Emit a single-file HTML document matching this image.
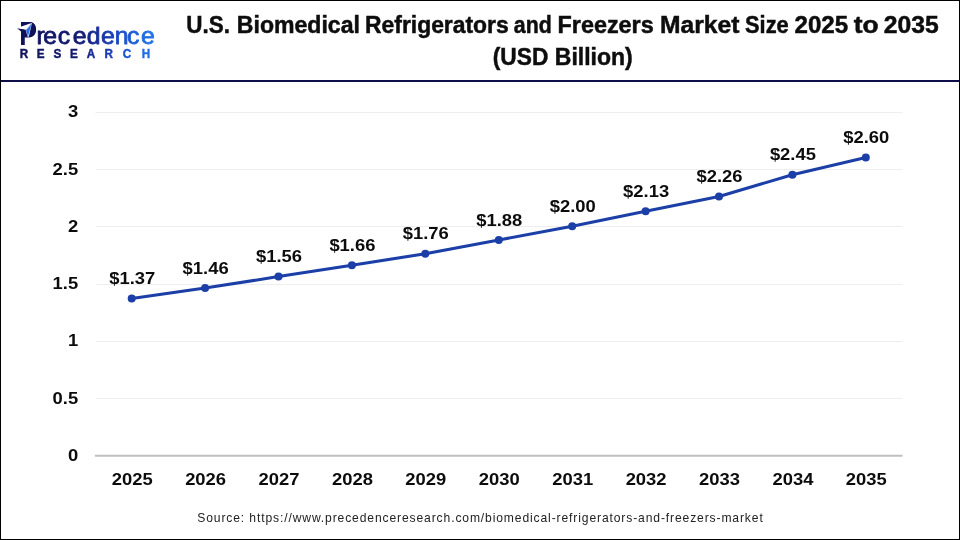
<!DOCTYPE html>
<html lang="en"><head><meta charset="utf-8"><title>U.S. Biomedical Refrigerators and Freezers Market Size 2025 to 2035</title>
<style>html,body{margin:0;padding:0;background:#fff;}body{width:960px;height:540px;overflow:hidden;}svg{display:block;}text{font-family:"Liberation Sans", Arial, Helvetica, sans-serif;}</style></head><body>
<svg width="960" height="540" viewBox="0 0 960 540">
<defs><linearGradient id="lg" gradientUnits="userSpaceOnUse" x1="17" y1="0" x2="154" y2="0"><stop offset="0" stop-color="#10125a"/><stop offset="0.45" stop-color="#131a72"/><stop offset="0.62" stop-color="#1832a4"/><stop offset="0.8" stop-color="#1b55d2"/><stop offset="1" stop-color="#2376ee"/></linearGradient><linearGradient id="lg2" gradientUnits="userSpaceOnUse" x1="18.9" y1="0" x2="171.1" y2="0"><stop offset="0" stop-color="#10125a"/><stop offset="0.45" stop-color="#131a72"/><stop offset="0.62" stop-color="#1832a4"/><stop offset="0.8" stop-color="#1b55d2"/><stop offset="1" stop-color="#2376ee"/></linearGradient><linearGradient id="lg3" gradientUnits="userSpaceOnUse" x1="16.35" y1="0" x2="148.1" y2="0"><stop offset="0" stop-color="#10125a"/><stop offset="0.45" stop-color="#131a72"/><stop offset="0.62" stop-color="#1832a4"/><stop offset="0.8" stop-color="#1b55d2"/><stop offset="1" stop-color="#2376ee"/></linearGradient></defs>
<rect x="0" y="0" width="960" height="540" fill="#ffffff"/>
<line x1="95.5" y1="398.5" x2="902.5" y2="398.5" stroke="#eeeeee" stroke-width="1"/>
<line x1="95.5" y1="341.5" x2="902.5" y2="341.5" stroke="#eeeeee" stroke-width="1"/>
<line x1="95.5" y1="284.5" x2="902.5" y2="284.5" stroke="#eeeeee" stroke-width="1"/>
<line x1="95.5" y1="226.5" x2="902.5" y2="226.5" stroke="#eeeeee" stroke-width="1"/>
<line x1="95.5" y1="169.5" x2="902.5" y2="169.5" stroke="#eeeeee" stroke-width="1"/>
<line x1="95.5" y1="112.5" x2="902.5" y2="112.5" stroke="#eeeeee" stroke-width="1"/>
<line x1="95.0" y1="455.8" x2="902.5" y2="455.8" stroke="#bfbfbf" stroke-width="2"/>
<text transform="translate(78.2 460.8) scale(1.150 1)" x="0" y="0" font-size="16" font-weight="700" text-anchor="end" fill="#0c0c0c">0</text>
<text transform="translate(78.2 403.5) scale(1.150 1)" x="0" y="0" font-size="16" font-weight="700" text-anchor="end" fill="#0c0c0c">0.5</text>
<text transform="translate(78.2 346.3) scale(1.150 1)" x="0" y="0" font-size="16" font-weight="700" text-anchor="end" fill="#0c0c0c">1</text>
<text transform="translate(78.2 289.0) scale(1.150 1)" x="0" y="0" font-size="16" font-weight="700" text-anchor="end" fill="#0c0c0c">1.5</text>
<text transform="translate(78.2 231.7) scale(1.150 1)" x="0" y="0" font-size="16" font-weight="700" text-anchor="end" fill="#0c0c0c">2</text>
<text transform="translate(78.2 174.5) scale(1.150 1)" x="0" y="0" font-size="16" font-weight="700" text-anchor="end" fill="#0c0c0c">2.5</text>
<text transform="translate(78.2 117.2) scale(1.150 1)" x="0" y="0" font-size="16" font-weight="700" text-anchor="end" fill="#0c0c0c">3</text>
<text transform="translate(132.2 484.7) scale(1.150 1)" x="0" y="0" font-size="16" font-weight="700" text-anchor="middle" fill="#0c0c0c">2025</text>
<text transform="translate(205.6 484.7) scale(1.150 1)" x="0" y="0" font-size="16" font-weight="700" text-anchor="middle" fill="#0c0c0c">2026</text>
<text transform="translate(279.0 484.7) scale(1.150 1)" x="0" y="0" font-size="16" font-weight="700" text-anchor="middle" fill="#0c0c0c">2027</text>
<text transform="translate(352.4 484.7) scale(1.150 1)" x="0" y="0" font-size="16" font-weight="700" text-anchor="middle" fill="#0c0c0c">2028</text>
<text transform="translate(425.8 484.7) scale(1.150 1)" x="0" y="0" font-size="16" font-weight="700" text-anchor="middle" fill="#0c0c0c">2029</text>
<text transform="translate(499.2 484.7) scale(1.150 1)" x="0" y="0" font-size="16" font-weight="700" text-anchor="middle" fill="#0c0c0c">2030</text>
<text transform="translate(572.7 484.7) scale(1.150 1)" x="0" y="0" font-size="16" font-weight="700" text-anchor="middle" fill="#0c0c0c">2031</text>
<text transform="translate(646.1 484.7) scale(1.150 1)" x="0" y="0" font-size="16" font-weight="700" text-anchor="middle" fill="#0c0c0c">2032</text>
<text transform="translate(719.5 484.7) scale(1.150 1)" x="0" y="0" font-size="16" font-weight="700" text-anchor="middle" fill="#0c0c0c">2033</text>
<text transform="translate(792.9 484.7) scale(1.150 1)" x="0" y="0" font-size="16" font-weight="700" text-anchor="middle" fill="#0c0c0c">2034</text>
<text transform="translate(866.3 484.7) scale(1.150 1)" x="0" y="0" font-size="16" font-weight="700" text-anchor="middle" fill="#0c0c0c">2035</text>
<polyline points="131.7,298.4 205.1,288.1 278.5,276.6 351.9,265.2 425.3,253.7 498.8,240.0 572.2,226.2 645.6,211.3 719.0,196.5 792.4,174.7 865.8,157.5" fill="none" stroke="#1b3fa6" stroke-width="3" stroke-linejoin="round" stroke-linecap="round"/>
<circle cx="131.7" cy="298.4" r="4" fill="#1b3fa6"/>
<circle cx="205.1" cy="288.1" r="4" fill="#1b3fa6"/>
<circle cx="278.5" cy="276.6" r="4" fill="#1b3fa6"/>
<circle cx="351.9" cy="265.2" r="4" fill="#1b3fa6"/>
<circle cx="425.3" cy="253.7" r="4" fill="#1b3fa6"/>
<circle cx="498.8" cy="240.0" r="4" fill="#1b3fa6"/>
<circle cx="572.2" cy="226.2" r="4" fill="#1b3fa6"/>
<circle cx="645.6" cy="211.3" r="4" fill="#1b3fa6"/>
<circle cx="719.0" cy="196.5" r="4" fill="#1b3fa6"/>
<circle cx="792.4" cy="174.7" r="4" fill="#1b3fa6"/>
<circle cx="865.8" cy="157.5" r="4" fill="#1b3fa6"/>
<text transform="translate(132.2 283.9) scale(1.150 1)" x="0" y="0" font-size="16" font-weight="700" text-anchor="middle" fill="#0c0c0c">$1.37</text>
<text transform="translate(205.6 273.6) scale(1.150 1)" x="0" y="0" font-size="16" font-weight="700" text-anchor="middle" fill="#0c0c0c">$1.46</text>
<text transform="translate(279.0 262.1) scale(1.150 1)" x="0" y="0" font-size="16" font-weight="700" text-anchor="middle" fill="#0c0c0c">$1.56</text>
<text transform="translate(352.4 250.7) scale(1.150 1)" x="0" y="0" font-size="16" font-weight="700" text-anchor="middle" fill="#0c0c0c">$1.66</text>
<text transform="translate(425.8 239.2) scale(1.150 1)" x="0" y="0" font-size="16" font-weight="700" text-anchor="middle" fill="#0c0c0c">$1.76</text>
<text transform="translate(499.2 225.5) scale(1.150 1)" x="0" y="0" font-size="16" font-weight="700" text-anchor="middle" fill="#0c0c0c">$1.88</text>
<text transform="translate(572.7 211.7) scale(1.150 1)" x="0" y="0" font-size="16" font-weight="700" text-anchor="middle" fill="#0c0c0c">$2.00</text>
<text transform="translate(646.1 196.8) scale(1.150 1)" x="0" y="0" font-size="16" font-weight="700" text-anchor="middle" fill="#0c0c0c">$2.13</text>
<text transform="translate(719.5 182.0) scale(1.150 1)" x="0" y="0" font-size="16" font-weight="700" text-anchor="middle" fill="#0c0c0c">$2.26</text>
<text transform="translate(792.9 160.2) scale(1.150 1)" x="0" y="0" font-size="16" font-weight="700" text-anchor="middle" fill="#0c0c0c">$2.45</text>
<text transform="translate(866.3 143.0) scale(1.150 1)" x="0" y="0" font-size="16" font-weight="700" text-anchor="middle" fill="#0c0c0c">$2.60</text>
<text y="33.0" font-size="24.7" font-weight="700" fill="#0d0d0d" stroke="#0d0d0d" stroke-width="0.5"><tspan x="186.30" textLength="43.65" lengthAdjust="spacingAndGlyphs">U.S.</tspan> <tspan x="236.80" textLength="123.15" lengthAdjust="spacingAndGlyphs">Biomedical</tspan> <tspan x="365.05" textLength="143.65" lengthAdjust="spacingAndGlyphs">Refrigerators</tspan> <tspan x="513.80" textLength="37.90" lengthAdjust="spacingAndGlyphs">and</tspan> <tspan x="557.55" textLength="96.15" lengthAdjust="spacingAndGlyphs">Freezers</tspan> <tspan x="660.05" textLength="79.40" lengthAdjust="spacingAndGlyphs">Market</tspan> <tspan x="745.05" textLength="43.65" lengthAdjust="spacingAndGlyphs">Size</tspan> <tspan x="794.55" textLength="53.65" lengthAdjust="spacingAndGlyphs">2025</tspan> <tspan x="853.80" textLength="24.90" lengthAdjust="spacingAndGlyphs">to</tspan> <tspan x="883.80" textLength="54.90" lengthAdjust="spacingAndGlyphs">2035</tspan></text>
<text y="65.0" font-size="24.7" font-weight="700" fill="#0d0d0d" stroke="#0d0d0d" stroke-width="0.5"><tspan x="492.80" textLength="55.50" lengthAdjust="spacingAndGlyphs">(USD</tspan> <tspan x="554.80" textLength="77.90" lengthAdjust="spacingAndGlyphs">Billion)</tspan></text>
<text x="480" y="522" font-size="12.1" text-anchor="middle" textLength="565.5" lengthAdjust="spacing" fill="#222">Source: https://www.precedenceresearch.com/biomedical-refrigerators-and-freezers-market</text>
<rect x="0" y="80" width="960" height="2" fill="#0d0d47"/>
<g id="logo">
<text transform="translate(19.3 44.5) scale(0.85 1.062)" x="0" y="0" font-size="31" font-weight="700" fill="#10125a">P</text>
<path d="M24 21.9 L29.6 21.9 C33.8 21.9 36.1 25.4 36.1 29.6 C36.1 34 33.4 37.4 29 37.4 L24 37.4 Z" fill="#10125a"/>
<path d="M32.4 22.7 L20.6 26.7 L16 27.5 L17.3 28.3 L25.9 30.1 L31.6 23.6 Z" fill="#ffffff"/>
<path d="M17.2 28.2 L26.2 30.0 L24.5 33 L21.3 31.7 Z" fill="#10125a"/>
<path d="M31.9 23.3 L25.7 30.3 L27.8 37.2 L28.9 36.6 Z" fill="#cfe2fa"/>
<path d="M31.5 23.9 L26.1 30.4 L27.9 36.6 Z" fill="#2a6fe2"/>
<text transform="translate(0 44.3) scale(1.040 1)" x="35.05 41.68 55.43 69.85 83.39 97.16 110.34 122.16 135.62" y="0" font-size="23.8" font-weight="400" fill="url(#lg3)" stroke="url(#lg3)" stroke-width="0.8" stroke-linejoin="round">recedence</text>
<text transform="translate(0 58.0) scale(0.90 1)" x="21.89 40.87 59.51 77.65 96.32 116.06 136.44 157.64" y="0" font-size="13.0" font-weight="700" fill="url(#lg2)" stroke="url(#lg2)" stroke-width="0.45">RESEARCH</text>
</g>
<rect x="0.5" y="0.5" width="959" height="539" fill="none" stroke="#000" stroke-width="1"/>
</svg></body></html>
